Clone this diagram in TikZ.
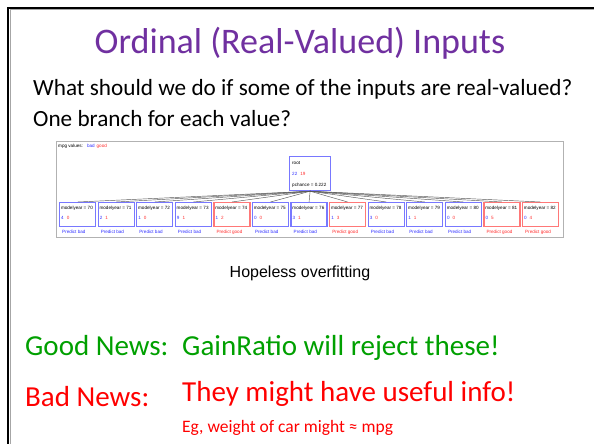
\documentclass[tikz,border=0pt]{standalone}
\usepackage{fontspec}
\setmainfont{Carlito}
\newfontfamily\arialf{Liberation Sans}
\definecolor{ttl}{HTML}{7030A0}
\definecolor{gnews}{HTML}{00A000}
\definecolor{rnews}{HTML}{FF0000}
\definecolor{tblue}{HTML}{3030FF}
\definecolor{tred}{HTML}{FF3030}
\definecolor{bblue}{HTML}{7878FF}
\definecolor{bred}{HTML}{FF7878}
\tikzset{
  txt/.style={anchor=base west, inner sep=0pt},
  tiny/.style={inner sep=0pt, font=\arialf\fontsize{4.6}{5}\selectfont},
  leafbox/.style={draw=#1, line width=1.2pt, minimum width=36pt, minimum height=23.5pt, anchor=north west, inner sep=0pt},
  edge/.style={draw=black!65, line width=0.45pt},
}
\begin{document}
\begin{tikzpicture}[x=1pt,y=-1pt]
\useasboundingbox (0,0) rectangle (594,444);
\fill[white] (0,0) rectangle (594,444);
% slide frame
\draw[black!35, line width=1pt] (10,444) -- (10,10) -- (594,10);
\draw[black, line width=2.2pt] (8,444) -- (8,8) -- (594,8);

% title and text
\node[anchor=base, inner sep=0pt, font=\fontsize{36}{40}\selectfont, text=ttl] (title) at (300,53) {Ordinal (Real-Valued) Inputs};
\node[txt, font=\fontsize{23.2}{26}\selectfont] (q1) at (33,95) {What should we do if some of the inputs are real-valued?};
\node[txt, font=\fontsize{23.2}{26}\selectfont] (q2) at (33,126) {One branch for each value?};

% tree picture
\draw[black!30, line width=0.8pt] (56,141) rectangle (563,237);
\node[tiny, anchor=base west] (mpg) at (58,147) {mpg values:\hspace{4pt}\textcolor{tblue}{bad}\hspace{2pt}\textcolor{tred}{good}};

\node[draw=bblue, line width=1.2pt, minimum width=41pt, minimum height=34pt, anchor=north west, inner sep=0pt] (root) at (289,156) {};
\node[tiny, anchor=base west] (rt1) at (292,164) {root};
\node[tiny, anchor=base west] (rt2) at (292,175) {\textcolor{tblue}{22}\hspace{3pt}\textcolor{tred}{19}};
\node[tiny, anchor=base west] (rt3) at (292,186) {pchance = 0.222};

\foreach \i/\yr/\b/\r/\c/\bc/\pr in {0/70/4/0/tblue/bblue/bad, 1/71/2/1/tblue/bblue/bad, 2/72/1/0/tblue/bblue/bad, 3/73/9/1/tblue/bblue/bad, 4/74/1/2/tred/bred/good, 5/75/0/0/tblue/bblue/bad, 6/76/3/1/tblue/bblue/bad, 7/77/1/3/tred/bred/good, 8/78/3/0/tblue/bblue/bad, 9/79/1/1/tblue/bblue/bad, 10/80/0/0/tblue/bblue/bad, 11/81/0/5/tred/bred/good, 12/82/0/4/tred/bred/good} {
  \pgfmathsetmacro{\xx}{59+\i*38.58}
  \node[leafbox=\bc] (leaf\i) at (\xx,202) {};
  \node[tiny, anchor=base west] (lt\i) at (\xx+1.8,209) {modelyear = \yr};
  \node[tiny, anchor=base west] (lc\i) at (\xx+2,219) {\textcolor{tblue}{\b}\hspace{3pt}\textcolor{tred}{\r}};
  \node[tiny, anchor=base west, text=\c] (lp\i) at (\xx+3,233) {Predict \pr};
  \draw[edge] (root.south) -- (leaf\i.north);
}

\node[anchor=base, inner sep=0pt, font=\arialf\fontsize{16}{18}\selectfont] (hope) at (300,277) {Hopeless overfitting};

\node[txt, font=\fontsize{29}{32}\selectfont, text=gnews] (gn) at (25,355) {Good News:};
\node[txt, font=\fontsize{29}{32}\selectfont, text=gnews] (gr) at (182,355) {GainRatio will reject these!};
\node[txt, font=\fontsize{29}{32}\selectfont, text=rnews] (bn) at (25,406) {Bad News:};
\node[txt, font=\fontsize{29}{32}\selectfont, text=rnews] (bi) at (182,401) {They might have useful info!};
\node[txt, font=\fontsize{17.5}{20}\selectfont, text=rnews] (eg) at (182,432) {Eg, weight of car might ≈ mpg};
\end{tikzpicture}
\end{document}
